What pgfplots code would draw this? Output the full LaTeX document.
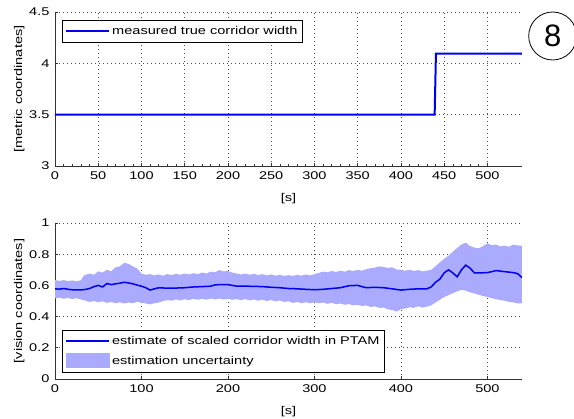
\documentclass[border=0pt]{standalone}
\usepackage{pgfplots}
\pgfplotsset{compat=1.18}
\usepgfplotslibrary{fillbetween}
\usepackage{fontspec}
\setmainfont{Liberation Sans}[FakeStretch=1.3]
\newfontfamily\plainfont{Liberation Sans}
\definecolor{bandcol}{RGB}{170,170,255}
\definecolor{linecol}{RGB}{0,0,240}

\pgfplotsset{
  mstyle/.style={
    scale only axis, width=467pt,
    axis lines*=left,
    xmin=0, xmax=540,
    grid=major,
    grid style={black!70, dash pattern=on 0.8pt off 3.2pt, line width=0.6pt},
    tick align=inside,
    major tick length=3pt,
    tick style={black!80, line width=0.6pt},
    axis line style={black!80, line width=0.8pt},
    every tick label/.append style={font=\fontsize{11.2}{13}\selectfont},
    xticklabel style={yshift=-2pt},
    yticklabel style={xshift=-2pt},
    label style={font=\fontsize{11.2}{13}\selectfont},
    /pgf/number format/assume math mode=true,
    xlabel={[s]},
    xlabel style={yshift=-7pt},
    ylabel style={yshift=-2pt},
    legend cell align=left,
    legend style={font=\fontsize{11.2}{13}\selectfont,
      inner xsep=3pt, inner ysep=4pt, row sep=5pt},
  }
}

\begin{document}
\begin{tikzpicture}

\begin{axis}[mstyle, name=top, at={(0,0)}, anchor=south west,
  height=154pt,
  ymin=3, ymax=4.5,
  xtick={0,50,...,500},
  ytick={3,3.5,4,4.5},
  yticklabels={3,3.5,4,4.5},
  minor x tick num=4,
  minor tick length=1.5pt,
  ylabel={[metric coordinates]},
  legend style={at={(0.015,0.948)}, anchor=north west},
]
\addplot[linecol, line width=2pt, forget plot] coordinates {(0,3.5) (439,3.5) (440.5,4.095) (540,4.095)};
\addlegendimage{legend image code/.code={\draw[linecol, line width=2pt] (0pt,0pt) -- (43pt,0pt);}}
\addlegendentry{measured true corridor width}
\end{axis}

\begin{axis}[mstyle, name=bot, at={(0,-213pt)}, anchor=south west,
  height=156pt,
  ymin=0, ymax=1,
  xtick={0,100,...,500},
  ytick={0,0.2,...,1},
  yticklabels={0,0.2,0.4,0.6,0.8,1},
  ylabel={[vision coordinates]},
  legend style={at={(0.015,0.045)}, anchor=south west},
]
\addplot[name path=up, draw=none, forget plot] coordinates {
(0,0.635) (5,0.628) (10,0.634) (15,0.627) (20,0.632) (25,0.626) (30,0.633)
(33,0.660) (35,0.668) (40,0.676) (45,0.668) (50,0.690) (55,0.682) (60,0.700)
(65,0.690) (70,0.716) (75,0.722) (80,0.745) (85,0.738) (90,0.722) (95,0.708)
(100,0.676) (105,0.668) (110,0.672) (115,0.664) (120,0.670) (125,0.662) (130,0.672)
(135,0.666) (140,0.674) (145,0.668) (150,0.676) (155,0.670) (160,0.678) (165,0.672)
(170,0.682) (175,0.676) (180,0.688) (185,0.684) (190,0.698) (195,0.690) (200,0.692)
(205,0.682) (210,0.676) (215,0.670) (220,0.676) (225,0.668) (230,0.674) (235,0.666)
(240,0.672) (245,0.664) (250,0.670) (255,0.662) (260,0.668) (265,0.660) (270,0.666)
(275,0.660) (280,0.668) (285,0.662) (290,0.670) (295,0.664) (300,0.672) (305,0.680)
(310,0.688) (315,0.684) (320,0.692) (325,0.686) (330,0.694) (335,0.688) (340,0.698)
(345,0.692) (350,0.700) (355,0.694) (360,0.704) (365,0.710) (370,0.714) (375,0.722)
(380,0.718) (385,0.712) (390,0.716) (395,0.702) (400,0.700) (405,0.694) (410,0.700)
(415,0.692) (420,0.698) (425,0.690) (430,0.694) (435,0.700) (440,0.722) (445,0.748)
(450,0.770) (455,0.790) (460,0.815) (465,0.840) (470,0.862) (475,0.874) (480,0.852)
(485,0.842) (490,0.838) (495,0.852) (500,0.870) (505,0.858) (510,0.862) (515,0.850)
(520,0.854) (525,0.848) (530,0.862) (535,0.856) (540,0.855)
};
\addplot[name path=lo, draw=none, forget plot] coordinates {
(0,0.516) (5,0.522) (10,0.514) (15,0.520) (20,0.512) (25,0.518) (30,0.510)
(35,0.502) (40,0.494) (45,0.500) (50,0.492) (55,0.498) (60,0.488) (65,0.494)
(70,0.486) (75,0.492) (80,0.484) (85,0.490) (90,0.486) (95,0.494) (100,0.490)
(105,0.484) (110,0.478) (115,0.486) (120,0.490) (125,0.500) (130,0.506) (135,0.502)
(140,0.510) (145,0.504) (150,0.512) (155,0.506) (160,0.514) (165,0.508) (170,0.514)
(175,0.508) (180,0.516) (185,0.510) (190,0.516) (195,0.510) (200,0.514) (205,0.508)
(210,0.512) (215,0.506) (220,0.512) (225,0.504) (230,0.510) (235,0.502) (240,0.508)
(245,0.500) (250,0.506) (255,0.498) (260,0.504) (265,0.494) (270,0.498) (275,0.488)
(280,0.494) (285,0.486) (290,0.492) (295,0.486) (300,0.492) (305,0.486) (310,0.490)
(315,0.482) (320,0.488) (325,0.480) (330,0.484) (335,0.476) (340,0.480) (345,0.472)
(350,0.476) (355,0.468) (360,0.472) (365,0.462) (370,0.466) (375,0.456) (380,0.458)
(385,0.446) (390,0.442) (395,0.432) (400,0.448) (405,0.452) (410,0.460) (415,0.456)
(420,0.466) (425,0.458) (430,0.464) (435,0.472) (440,0.490) (445,0.508) (450,0.525)
(455,0.538) (460,0.550) (465,0.562) (470,0.572) (475,0.566) (480,0.556) (485,0.548)
(490,0.540) (495,0.532) (500,0.526) (505,0.518) (510,0.512) (515,0.506) (520,0.502)
(525,0.494) (530,0.492) (535,0.484) (540,0.486)
};
\addplot[bandcol, draw=none, forget plot] fill between[of=up and lo];

\addplot[linecol, line width=1.5pt, forget plot] coordinates {
(0,0.578) (5,0.576) (10,0.580) (15,0.575) (20,0.572) (25,0.572) (30,0.571)
(35,0.574) (40,0.580) (45,0.592) (50,0.600) (55,0.590) (60,0.612) (65,0.605)
(70,0.610) (75,0.614) (80,0.620) (85,0.616) (90,0.610) (95,0.602) (100,0.595)
(105,0.585) (110,0.570) (115,0.578) (120,0.585) (130,0.582) (140,0.583) (150,0.585)
(160,0.590) (170,0.592) (180,0.595) (185,0.603) (190,0.605) (200,0.605) (205,0.600)
(210,0.595) (220,0.595) (230,0.594) (240,0.592) (250,0.588) (260,0.585) (270,0.580)
(280,0.578) (290,0.575) (300,0.572) (310,0.575) (320,0.580) (330,0.585) (340,0.598)
(350,0.600) (355,0.592) (360,0.585) (370,0.588) (380,0.585) (390,0.578) (400,0.570)
(410,0.575) (420,0.578) (430,0.578) (435,0.590) (440,0.620) (445,0.640) (450,0.680)
(455,0.700) (460,0.680) (465,0.655) (470,0.700) (475,0.730) (480,0.710) (485,0.680)
(490,0.680) (500,0.682) (505,0.688) (510,0.695) (520,0.688) (530,0.682) (535,0.675)
(540,0.650)
};
\addlegendimage{legend image code/.code={\draw[linecol, line width=1.8pt] (0pt,0pt) -- (43pt,0pt);}}
\addlegendentry{estimate of scaled corridor width in PTAM}
\addlegendimage{legend image code/.code={\fill[bandcol] (0pt,-6pt) rectangle (43pt,8pt);}}
\addlegendentry{estimation uncertainty}
\end{axis}

\node[draw, circle, line width=0.8pt, minimum size=48pt, inner sep=0pt,
  font=\plainfont\fontsize{31}{33}\selectfont] at (497.7pt,130pt) {8};
\pgfresetboundingbox
\path[use as bounding box] (-55pt,-253pt) rectangle (519pt,166pt);
\end{tikzpicture}
\end{document}
